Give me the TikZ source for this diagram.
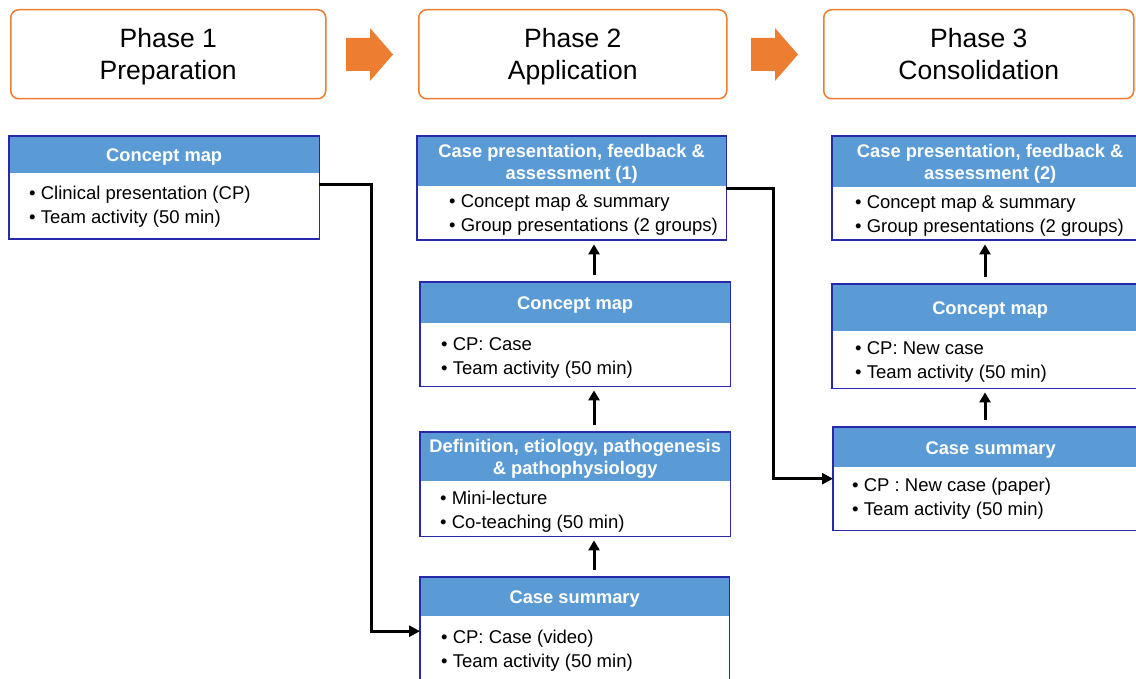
\documentclass[tikz,border=0pt]{standalone}
\usepackage{fontspec}
\setmainfont{Liberation Sans}
\usetikzlibrary{arrows.meta,calc}
\definecolor{orng}{HTML}{ED7D31}
\definecolor{hdrblue}{HTML}{5B9BD5}
\definecolor{bordblue}{RGB}{40,40,170}
\begin{document}
\begin{tikzpicture}[x=1pt,y=-1pt,
 phasebox/.style={draw=orng, line width=1.5pt, rounded corners=8pt, anchor=north west, inner sep=0},
 phasetext/.style={inner sep=0, align=center, font=\fontsize{26.5}{32}\selectfont},
 cardbox/.style={fill=white, anchor=north west, inner sep=0},
 cardhead/.style={fill=hdrblue, anchor=north west, inner sep=0},
 headtext/.style={inner sep=0, text=white, align=center, font=\bfseries\fontsize{18.3}{22}\selectfont},
 cardborder/.style={draw=bordblue, line width=1.8pt},
 bullets/.style={anchor=west, inner sep=0, align=left, font=\fontsize{18.5}{24}\selectfont},
 link/.style={line width=3pt, -{Triangle[length=11pt,width=11pt]}},
 uparrow/.style={line width=3pt, -{Triangle[length=10pt,width=11pt]}, shorten <=7pt, shorten >=4pt}
]
\useasboundingbox (0,0) rectangle (1136,679);
\clip (0,0) rectangle (1136,679);
\fill[white] (0,0) rectangle (1136,679);

% phase boxes
\node[phasebox, minimum width=315pt, minimum height=89pt] (P1) at (10,9) {};
\node[phasetext] (P1t) at ([yshift=-2.5pt]P1.center) {Phase 1\\Preparation};
\node[phasebox, minimum width=308pt, minimum height=89pt] (P2) at (418,9) {};
\node[phasetext] (P2t) at ([yshift=-2.5pt]P2.center) {Phase 2\\Application};
\node[phasebox, minimum width=310pt, minimum height=89pt] (P3) at (823,9) {};
\node[phasetext] (P3t) at ([yshift=-2.5pt]P3.center) {Phase 3\\Consolidation\vphantom{p}};

% orange block arrows
\fill[orng] (346,38) -- (370,38) -- (370,28) -- (393,54.5) -- (370,81) -- (370,71) -- (346,71) -- cycle;
\fill[orng] (751,38) -- (775,38) -- (775,28) -- (798,54.5) -- (775,81) -- (775,71) -- (751,71) -- cycle;

% Card A
\node[cardbox, minimum width=310pt, minimum height=103pt] (A) at (9,136) {};
\node[cardhead, minimum width=310pt, minimum height=37pt] (Ah) at (9,136) {};
\node[headtext] (Aht) at ([yshift=-2.5pt]Ah.center) {Concept map};
\draw[cardborder] (A.north west) rectangle (A.south east);
\node[bullets] (At) at (29,206.5) {• Clinical presentation (CP)\\• Team activity (50 min)};

% Card B1
\node[cardbox, minimum width=309pt, minimum height=104pt] (B1) at (417,136) {};
\node[cardhead, minimum width=309pt, minimum height=50pt] (B1h) at (417,136) {};
\node[headtext] (B1ht) at ([yshift=-2.5pt]B1h.center) {Case presentation, feedback \&\\assessment (1)};
\draw[cardborder] (B1.north west) rectangle (B1.south east);
\node[bullets] (B1t) at (449,215) {• Concept map \& summary\\• Group presentations (2 groups)};

% Card B2
\node[cardbox, minimum width=310pt, minimum height=104pt] (B2) at (420,282) {};
\node[cardhead, minimum width=310pt, minimum height=41pt] (B2h) at (420,282) {};
\node[headtext] (B2ht) at ([yshift=-2.5pt]B2h.center) {Concept map};
\draw[cardborder] (B2.north west) rectangle (B2.south east);
\node[bullets] (B2t) at (441,357.5) {• CP: Case\\• Team activity (50 min)};

% Card B3
\node[cardbox, minimum width=310pt, minimum height=104pt] (B3) at (420,432) {};
\node[cardhead, minimum width=310pt, minimum height=49pt] (B3h) at (420,432) {};
\node[headtext] (B3ht) at ([yshift=-2.5pt]B3h.center) {Definition, etiology, pathogenesis\\\& pathophysiology};
\draw[cardborder] (B3.north west) rectangle (B3.south east);
\node[bullets] (B3t) at (440,511.5) {• Mini-lecture\\• Co-teaching (50 min)};

% Card B4
\node[cardbox, minimum width=309pt, minimum height=108pt] (B4) at (420,577) {};
\node[cardhead, minimum width=309pt, minimum height=39pt] (B4h) at (420,577) {};
\node[headtext] (B4ht) at ([yshift=-2.5pt]B4h.center) {Case summary};
\draw[cardborder] (B4.north west) rectangle (B4.south east);
\node[bullets] (B4t) at (441,650.5) {• CP: Case (video)\\• Team activity (50 min)};

% Card C1
\node[cardbox, minimum width=316pt, minimum height=104pt] (C1) at (832,136) {};
\node[cardhead, minimum width=316pt, minimum height=51pt] (C1h) at (832,136) {};
\node[headtext] (C1ht) at ([yshift=-2.5pt]C1h.center) {Case presentation, feedback \&\\assessment (2)};
\draw[cardborder] (C1.north west) rectangle (C1.south east);
\node[bullets] (C1t) at (855,216) {• Concept map \& summary\\• Group presentations (2 groups)};

% Card C2
\node[cardbox, minimum width=316pt, minimum height=104pt] (C2) at (832,284) {};
\node[cardhead, minimum width=316pt, minimum height=47pt] (C2h) at (832,284) {};
\node[headtext] (C2ht) at ([yshift=-2.5pt]C2h.center) {Concept map};
\draw[cardborder] (C2.north west) rectangle (C2.south east);
\node[bullets] (C2t) at (855,362) {• CP: New case\\• Team activity (50 min)};

% Card C3
\node[cardbox, minimum width=315pt, minimum height=103pt] (C3) at (833,427) {};
\node[cardhead, minimum width=315pt, minimum height=40pt] (C3h) at (833,427) {};
\node[headtext] (C3ht) at ([yshift=-2.5pt]C3h.center) {Case summary};
\draw[cardborder] (C3.north west) rectangle (C3.south east);
\node[bullets] (C3t) at (852,499) {• CP : New case (paper)\\• Team activity (50 min)};

% connectors
\coordinate (colB) at (594,0);
\coordinate (colC) at (985,0);
\draw[link] ([yshift=3.5pt]A.east) -- ++(52,0) |- (B4.west);
\draw[link] (B1.east) -- ++(47,0) |- (C3.west);
\draw[uparrow] (B2.north -| colB) -- (B1.south -| colB);
\draw[uparrow] (B3.north -| colB) -- (B2.south -| colB);
\draw[uparrow] (B4.north -| colB) -- (B3.south -| colB);
\draw[uparrow] (C3.north -| colC) -- (C2.south -| colC);
\draw[uparrow] (C2.north -| colC) -- (C1.south -| colC);
\end{tikzpicture}
\end{document}
